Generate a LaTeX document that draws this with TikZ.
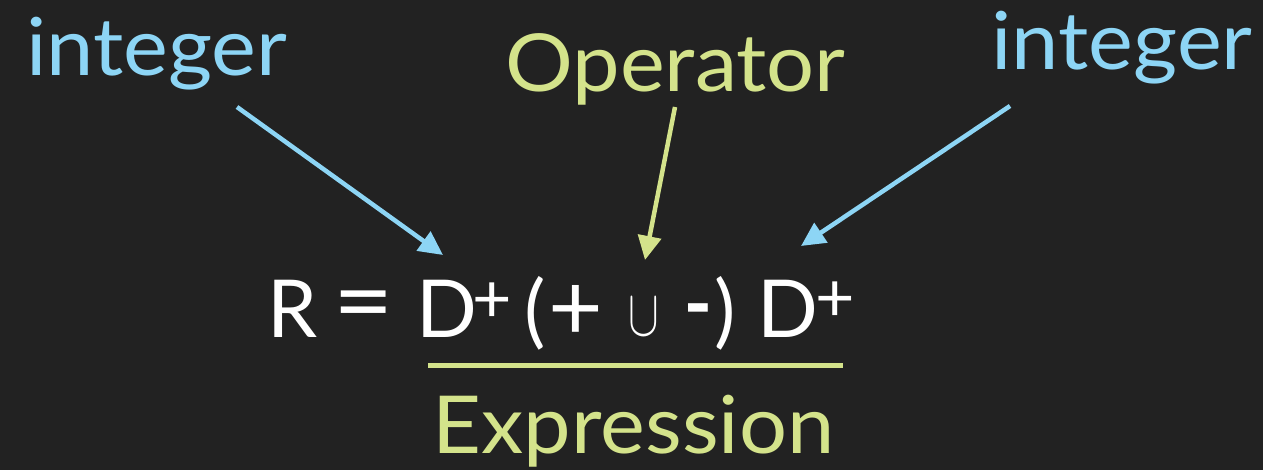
\documentclass[tikz,border=0pt]{standalone}
\usepackage{fontspec}
\setmainfont{Lato}
\usetikzlibrary{arrows.meta}
\definecolor{bg}{HTML}{222222}
\definecolor{cblue}{HTML}{8DD5F5}
\definecolor{cgreen}{HTML}{D4E38B}
\newfontfamily\lblfont[FakeStretch=1.06]{Lato}
\tikzset{
  lbl/.style={inner sep=0pt, anchor=base, font=\lblfont\fontsize{80}{80}\selectfont},
  glyph/.style={inner sep=0pt, anchor=center, text=white, font=\fontsize{80}{80}\selectfont},
  supglyph/.style={inner sep=0pt, anchor=center, text=white, font=\fontsize{68}{68}\selectfont},
  ptr/.style={line width=4.5pt, -{Triangle[length=24pt,width=23pt]}},
}
\begin{document}
\begin{tikzpicture}[x=1pt,y=-1pt]
\fill[bg] (0,0) rectangle (1263,470);
\useasboundingbox (0,0) rectangle (1263,470);
% labels
\node[lbl, text=cblue] (intL) at (157,76) {integer};
\node[lbl, text=cgreen] (op) at (675.5,92) {Operator};
\node[lbl, text=cblue] (intR) at (1122,70) {integer};
\node[lbl, text=cgreen] (expr) at (633.5,453) {Expression};
% equation
\node[glyph] (R) at (293,308.5) {R};
\node[glyph] (eq) at (363.5,313) {\scalebox{1.3}[1.2]{=}};
\node[glyph] (D1) at (446.5,308.5) {D};
\node[supglyph] (s1) at (492.5,302.5) {+};
\node[glyph] (lp) at (535,313.5) {(};
\node[glyph] (plus) at (575.5,312.5) {\scalebox{1.18}{+}};
\node[inner sep=0pt, anchor=center, text=white] (cup) at (643.5,317.5) {\scalebox{4.6}[6.6]{$\cup$}};
\node[glyph] (minus) at (698,323) {\scalebox{1}[1.4]{-}};
\node[glyph] (rp) at (725,313) {)};
\node[glyph] (D2) at (787.5,308.5) {D};
\node[supglyph] (s2) at (835,301.5) {+};
% underline
\coordinate (ulA) at (428,365.5);
\coordinate (ulB) at (843,365.5);
\draw[cgreen, line width=5pt] (ulA) -- (ulB);
% arrows
\coordinate (aLs) at (237,107);
\coordinate (aLt) at (443,255);
\coordinate (aMs) at (675,107);
\coordinate (aMt) at (645,260);
\coordinate (aRs) at (1010,106);
\coordinate (aRt) at (801,246);
\draw[ptr, cblue] (aLs) -- (aLt);
\draw[ptr, cgreen] (aMs) -- (aMt);
\draw[ptr, cblue] (aRs) -- (aRt);
\end{tikzpicture}
\end{document}
